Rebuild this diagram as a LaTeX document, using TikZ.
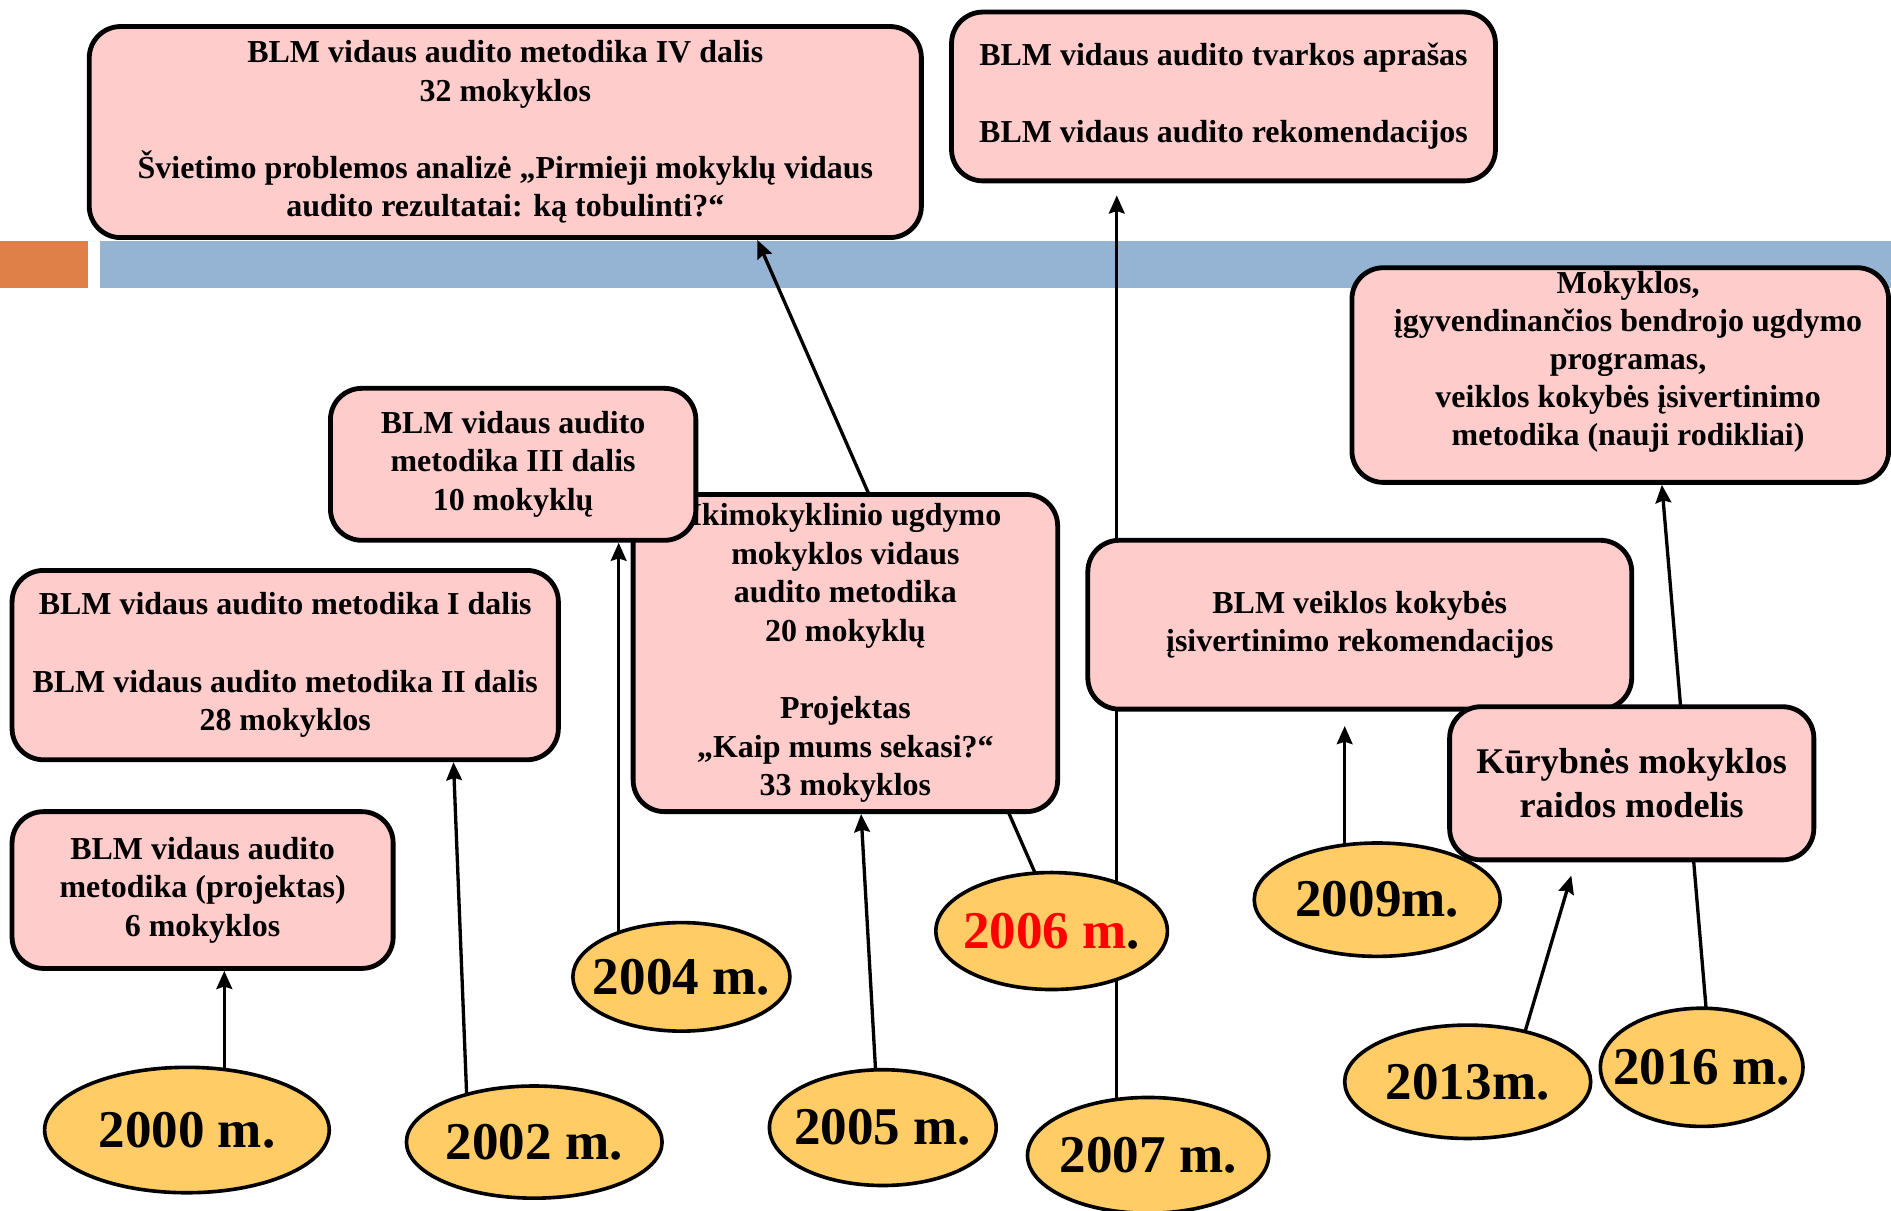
\documentclass[tikz,border=0pt]{standalone}
\usepackage{fontspec}
\setmainfont{Liberation Serif}
\usetikzlibrary{arrows.meta,shapes.geometric,backgrounds}
\definecolor{Box}{RGB}{255,204,204}
\definecolor{Year}{RGB}{255,204,102}
\definecolor{Bar}{RGB}{149,179,210}
\definecolor{Mark}{RGB}{222,128,71}
\newcommand{\yearlabel}[1]{\makebox[0pt]{#1}}

\tikzset{
  event/.style={draw, line width=4pt, fill=Box, rounded corners=26pt,
    align=center, inner sep=0pt, font=\bfseries\fontsize{26.5}{32}\selectfont},
  year/.style={ellipse, draw, line width=3pt, fill=Year, inner sep=0pt,
    font=\bfseries\fontsize{44}{50}\selectfont},
  link/.style={line width=2.75pt, -{Stealth[length=15pt,width=13pt,inset=2pt]}},
}

\begin{document}
\begin{tikzpicture}[x=1pt,y=-1pt]
    %% Background
    \useasboundingbox (0,0) rectangle (1568,1004);
    \begin{scope}[on background layer]
        \fill[Mark] (0,200) rectangle (73,239);
        \fill[Bar] (83,200) rectangle (1568,239);
    \end{scope}

    %% Boxes
    \node[event, minimum width=690, minimum height=175] (met4) at (419,109.5)
        {BLM vidaus audito metodika IV dalis\\32 mokyklos\\[32pt]%
         Švietimo problemos analizė „Pirmieji mokyklų vidaus\\audito rezultatai: ką tobulinti?“};
    \node[event, minimum width=451, minimum height=140] (tvark) at (1014.5,80)
        {BLM vidaus audito tvarkos aprašas\\[32pt]BLM vidaus audito rekomendacijos};
    \node[event, minimum width=352, minimum height=263] (ikimo) at (701,541.5)
        {Ikimokyklinio ugdymo\\mokyklos vidaus\\audito metodika\\20 mokyklų\\[32pt]%
         Projektas\\„Kaip mums sekasi?“\\33 mokyklos};
    \node[event, minimum width=303, minimum height=126] (met3) at (425.5,385)
        {BLM vidaus audito\\metodika III dalis\\10 mokyklų};
    \node[event, minimum width=453, minimum height=157] (met12) at (236.5,551.5)
        {BLM vidaus audito metodika I dalis\\[32pt]BLM vidaus audito metodika II dalis\\28 mokyklos};
    \node[event, minimum width=316, minimum height=130] (proj) at (168,738)
        {BLM vidaus audito\\metodika (projektas)\\6 mokyklos};
    \node[event, minimum width=451, minimum height=140] (veik) at (1127.5,518)
        {BLM veiklos kokybės\\įsivertinimo rekomendacijos};
    \node[event, minimum width=445, minimum height=178] (mok) at (1343.5,311) {};
    \node[align=center, inner sep=0pt, font=\bfseries\fontsize{26.5}{31.5}\selectfont]
        (mokText) at (1350,300)
        {Mokyklos,\\įgyvendinančios bendrojo ugdymo\\programas,\\veiklos kokybės įsivertinimo\\metodika (nauji rodikliai)};

    %% Years
    \node[year, minimum width=204, minimum height=94] (y2009) at (1142,746) {\yearlabel{2009m.}};
    \node[event, minimum width=302, minimum height=127,
        font=\bfseries\fontsize{30}{36}\selectfont] (kur) at (1353,649.5)
        {Kūrybnės mokyklos\\raidos modelis};
    \node[year, minimum width=236, minimum height=104] (y2000) at (155,937) {\yearlabel{2000 m.}};
    \node[year, minimum width=212, minimum height=93] (y2002) at (443,947) {\yearlabel{2002 m.}};
    \node[year, minimum width=180, minimum height=90] (y2004) at (565,810) {\yearlabel{2004 m.}};
    \node[year, minimum width=188, minimum height=96] (y2005) at (732,935) {\yearlabel{2005 m.}};
    \node[year, minimum width=192, minimum height=97] (y2006) at (872,772) {\yearlabel{\textcolor{red}{2006 m}.}};
    \node[year, minimum width=200, minimum height=96] (y2007) at (952,958) {\yearlabel{2007 m.}};
    \node[year, minimum width=204, minimum height=94] (y2013) at (1217,897) {\yearlabel{2013m.}};
    \node[year, minimum width=168, minimum height=98] (y2016) at (1411,885) {\yearlabel{2016 m.}};

    %% Links
    \begin{scope}[on background layer]
        \draw[link] ([xshift=31]y2000.center) -- ([xshift=18]proj.south);
        \draw[link] ([xshift=-54.5]y2002.center) -- ([xshift=139.5]met12.south);
        \draw[link] ([xshift=-52]y2004.center) -- ([xshift=87.5]met3.south);
        \draw[link] ([xshift=-3.3]y2005.center) -- ([xshift=13]ikimo.south);
        \draw[link] ([xshift=7.4]y2006.center) -- ([xshift=209]met4.south);
        \draw[link, shorten >=10pt] ([xshift=-26]y2007.center) -- ([xshift=-88.5]tvark.south);
        \draw[link, shorten >=12pt] ([xshift=-27]y2009.center) -- ([xshift=-12.5]veik.south);
        \draw[link, shorten >=11.5pt] ([xshift=35.2]y2013.center) -- ([xshift=-46.8]kur.south);
        \draw[link] ([xshift=7.8]y2016.center) -- ([xshift=34.5]mok.south);
    \end{scope}
\end{tikzpicture}
\end{document}
